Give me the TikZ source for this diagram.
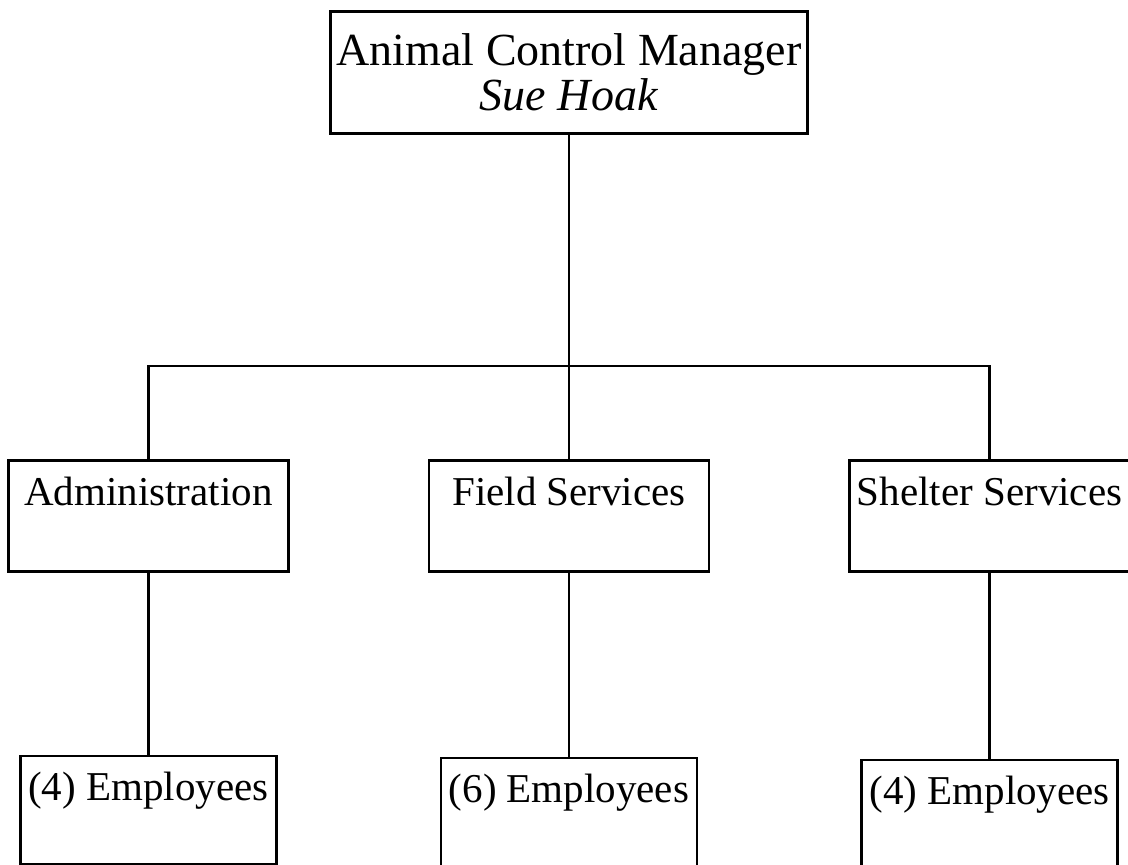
\documentclass[tikz,border=0pt]{standalone}
\usepackage{fontspec}
\setmainfont{Liberation Serif}
\usetikzlibrary{positioning}

\begin{document}
\begin{tikzpicture}[x=0.5pt,y=-0.5pt,line width=1.3pt,
    boss/.style={draw,inner sep=0pt,minimum width=238.5pt,minimum height=61pt,
      align=center,font=\fontsize{23pt}{22.5pt}\selectfont},
    unit/.style={draw,inner sep=0pt,minimum width=140pt,text height=22.5pt,
      text depth=33pt,font=\fontsize{20.5pt}{24pt}\selectfont},
    staff/.style={draw,inner sep=0pt,minimum width=128pt,text height=22.5pt,
      text depth=31.5pt,font=\fontsize{20.5pt}{24pt}\selectfont}]
  \useasboundingbox (0,0) rectangle (1128,865);

  \node[boss,anchor=north] (mgr) at (569,10) {Animal Control Manager\\\textit{Sue Hoak}};

  \node[unit,anchor=north] (field) at (569,459) {Field Services};
  \node[unit,left=69pt of field] (admin) {Administration};
  \node[unit,right=69pt of field] (shelter) {Shelter Services};

  % only the left one ends inside the page
  \node[staff,below=91pt of admin] (adminstaff) {(4) Employees};
  \node[staff,text depth=35pt,below=92pt of field] (fieldstaff) {(6) Employees};
  \node[staff,text depth=35pt,below=93pt of shelter] (shelterstaff) {(4) Employees};

  \coordinate (bar) at (569,366);

  \draw (mgr) -- (field);
  \draw (admin.north) |- (bar) -| (shelter.north);
  \draw (admin) -- (adminstaff);
  \draw (field) -- (fieldstaff);
  \draw (shelter) -- (shelterstaff);
\end{tikzpicture}
\end{document}
